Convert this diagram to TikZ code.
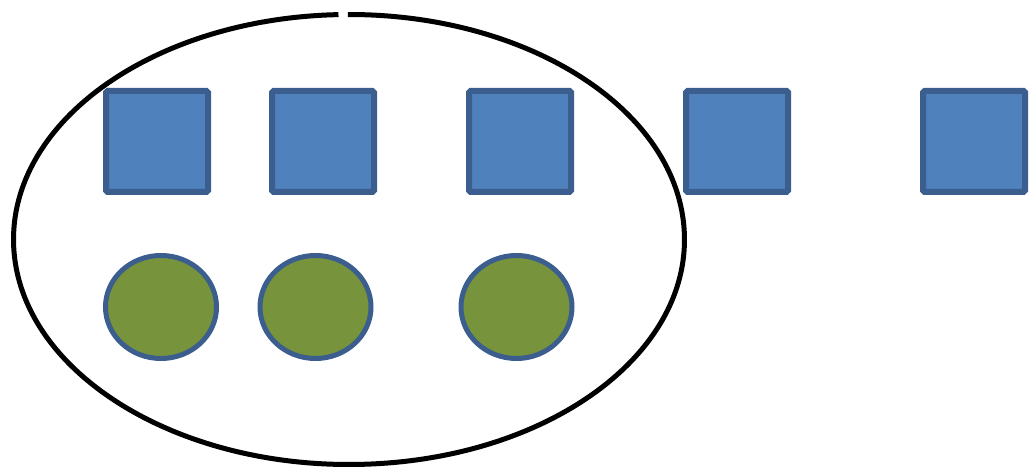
\documentclass[tikz,border=0pt]{standalone}
\usetikzlibrary{shapes.geometric}
\definecolor{boxfill}{HTML}{4F81BD}
\definecolor{boxline}{HTML}{3B5E8E}
\definecolor{dotfill}{HTML}{77933C}
\begin{document}
\begin{tikzpicture}[x=1pt,y=1pt,
  sq/.style={draw=boxline,fill=boxfill,line width=6pt,minimum width=102pt,minimum height=101pt,inner sep=0pt,rounded corners=1.5pt},
  dot/.style={ellipse,draw=boxline,fill=dotfill,line width=5pt,minimum width=111pt,minimum height=103pt,inner sep=0pt}]
\useasboundingbox (0,0) rectangle (1029,469);
\draw[line width=5pt] (349,229.5) ++(91.8:335.5 and 225)
  arc[start angle=91.8,end angle=450.2,x radius=335.5,y radius=225];
\node[sq] (s1) at (157,327.5) {};
\node[sq] (s2) at (323,327.5) {};
\node[sq] (s3) at (520,327.5) {};
\node[sq] (s4) at (737,327.5) {};
\node[sq] (s5) at (974,327.5) {};
\node[dot] (c1) at (161,162) {};
\node[dot] (c2) at (315.5,162) {};
\node[dot] (c3) at (516.5,162) {};
\end{tikzpicture}
\end{document}
